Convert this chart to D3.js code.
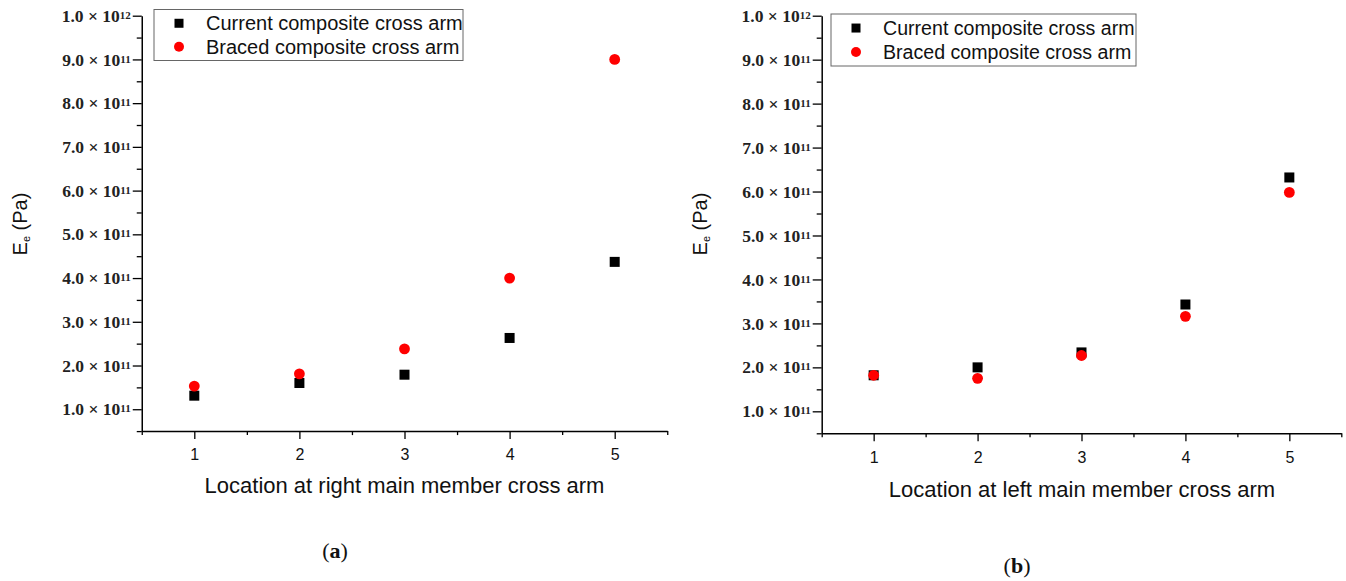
<!DOCTYPE html>
<html>
<head>
<meta charset="utf-8">
<script src="https://cdn.jsdelivr.net/npm/d3@7"></script>
<style>
  html, body { margin: 0; padding: 0; background: #fff; }
  svg { display: block; }
</style>
</head>
<body>
<svg id="chart" width="1346" height="581"></svg>
<script>
// ---- data ----
const categories = [1, 2, 3, 4, 5];
const xTickLabels = ["1", "2", "3", "4", "5"];
const seriesNames = ["Current composite cross arm", "Braced composite cross arm"];
const currentRight = [1.31e11, 1.60e11, 1.79e11, 2.63e11, 4.37e11];
const bracedRight  = [1.53e11, 1.81e11, 2.38e11, 4.00e11, 9.00e11];
const currentLeft  = [1.82e11, 2.00e11, 2.34e11, 3.43e11, 6.32e11];
const bracedLeft   = [1.82e11, 1.75e11, 2.27e11, 3.16e11, 5.98e11];
const yTickValues    = [1e11, 2e11, 3e11, 4e11, 5e11, 6e11, 7e11, 8e11, 9e11, 1e12];
const yTickMantissas = ["1.0", "2.0", "3.0", "4.0", "5.0", "6.0", "7.0", "8.0", "9.0", "1.0"];
const yTickExponents = ["11", "11", "11", "11", "11", "11", "11", "11", "11", "12"];
const yMinorTicks    = [0.5e11, 1.5e11, 2.5e11, 3.5e11, 4.5e11, 5.5e11, 6.5e11, 7.5e11, 8.5e11, 9.5e11];
const xMinorTicks    = [0.5, 1.5, 2.5, 3.5, 4.5, 5.5];
const xTitles = ["Location at right main member cross arm", "Location at left main member cross arm"];
const panelLetters = ["a", "b"];

const svg = d3.select("#chart");
const sans = "'Liberation Sans', Arial, sans-serif";
const serif = "'Liberation Serif', 'Times New Roman', serif";

const panels = [
  { cur: currentRight, br: bracedRight, xr: [141.75, 667.25], yr: [431.1, 15.7],
    legend: { x: 154, y: 9.5, w: 309, h: 51, fs: 20 }, titleX: 27, title: xTitles[0],
    titleCX: 404.5, titleY: 493, letter: panelLetters[0], letterX: 335, letterY: 558 },
  { cur: currentLeft, br: bracedLeft, xr: [821.7, 1341.3], yr: [433.3, 15.7],
    legend: { x: 831, y: 14, w: 305, h: 52, fs: 19.6 }, titleX: 707, title: xTitles[1],
    titleCX: 1082, titleY: 497, letter: panelLetters[1], letterX: 1017, letterY: 573 }
];

panels.forEach(p => {
  const x = d3.scaleLinear().domain([0.5, 5.5]).range(p.xr);
  const y = d3.scaleLinear().domain([0.5e11, 1e12]).range(p.yr);
  const g = svg.append("g");

  // minor ticks
  g.append("g").attr("transform", `translate(${p.xr[0]},0)`)
    .call(d3.axisLeft(y).tickValues(yMinorTicks).tickSize(5).tickFormat(""))
    .call(s => s.select(".domain").remove())
    .selectAll("line").attr("stroke-width", 1.3);
  g.append("g").attr("transform", `translate(0,${p.yr[0]})`)
    .call(d3.axisBottom(x).tickValues(xMinorTicks).tickSize(4).tickFormat(""))
    .call(s => s.select(".domain").remove())
    .selectAll("line").attr("stroke-width", 1.3);

  // y axis
  const ya = g.append("g").attr("transform", `translate(${p.xr[0]},0)`)
    .call(d3.axisLeft(y).tickValues(yTickValues).tickSize(9).tickSizeOuter(0).tickPadding(2));
  ya.select(".domain").attr("stroke-width", 1.5);
  ya.selectAll("line").attr("stroke-width", 1.3);
  ya.selectAll("text").each(function(d, i) {
    const t = d3.select(this).text(null)
      .attr("font-family", serif).attr("font-size", 17.5).attr("font-weight", "bold")
      .attr("fill", "#222");
    t.append("tspan").text(yTickMantissas[i] + " × 10");
    t.append("tspan").attr("font-size", 11).attr("dy", -3).text(yTickExponents[i]);
  });

  // x axis
  const xa = g.append("g").attr("transform", `translate(0,${p.yr[0]})`)
    .call(d3.axisBottom(x).tickValues(categories).tickSize(8).tickSizeOuter(0).tickPadding(10)
      .tickFormat((d, i) => xTickLabels[i]));
  xa.select(".domain").attr("stroke-width", 1.5);
  xa.selectAll("line").attr("stroke-width", 1.3);
  xa.selectAll("text").attr("font-family", sans).attr("font-size", 16).attr("fill", "#111");

  // axis titles
  g.append("text").attr("x", p.titleCX).attr("y", p.titleY).attr("text-anchor", "middle")
    .attr("font-family", sans).attr("font-size", 22).attr("fill", "#111").text(p.title);

  const yt = g.append("text")
    .attr("transform", `translate(${p.titleX},224) rotate(-90)`)
    .attr("text-anchor", "middle").attr("font-family", sans).attr("font-size", 20).attr("fill", "#111");
  yt.append("tspan").text("E");
  yt.append("tspan").attr("font-size", 11).attr("dy", 3).text("e");
  yt.append("tspan").attr("dy", -3).text(" (Pa)");

  // data points
  g.append("g").selectAll("rect").data(p.cur).join("rect")
    .attr("x", (d, i) => x(categories[i]) - 5).attr("y", d => y(d) - 5)
    .attr("width", 10).attr("height", 10).attr("fill", "#000");
  g.append("g").selectAll("circle").data(p.br).join("circle")
    .attr("cx", (d, i) => x(categories[i])).attr("cy", d => y(d))
    .attr("r", 5.4).attr("fill", "#ff0000");

  // legend
  const L = p.legend;
  const lg = g.append("g");
  lg.append("rect").attr("x", L.x).attr("y", L.y).attr("width", L.w).attr("height", L.h)
    .attr("fill", "#fff").attr("stroke", "#666").attr("stroke-width", 1);
  const r1 = L.y + L.h * 0.27, r2 = L.y + L.h * 0.73;
  lg.append("rect").attr("x", L.x + 25 - 4.5).attr("y", r1 - 4.5).attr("width", 9).attr("height", 9).attr("fill", "#000");
  lg.append("circle").attr("cx", L.x + 25).attr("cy", r2).attr("r", 5).attr("fill", "#ff0000");
  lg.append("text").attr("x", L.x + 52).attr("y", r1 + 7).attr("font-family", sans)
    .attr("font-size", L.fs).attr("fill", "#111").text(seriesNames[0]);
  lg.append("text").attr("x", L.x + 52).attr("y", r2 + 7).attr("font-family", sans)
    .attr("font-size", L.fs).attr("fill", "#111").text(seriesNames[1]);

  // panel letter
  const pl = svg.append("text").attr("x", p.letterX).attr("y", p.letterY).attr("text-anchor", "middle")
    .attr("font-family", serif).attr("font-size", 22).attr("fill", "#111");
  pl.append("tspan").text("(");
  pl.append("tspan").attr("font-weight", "bold").text(p.letter);
  pl.append("tspan").text(")");
});
</script>
</body>
</html>
